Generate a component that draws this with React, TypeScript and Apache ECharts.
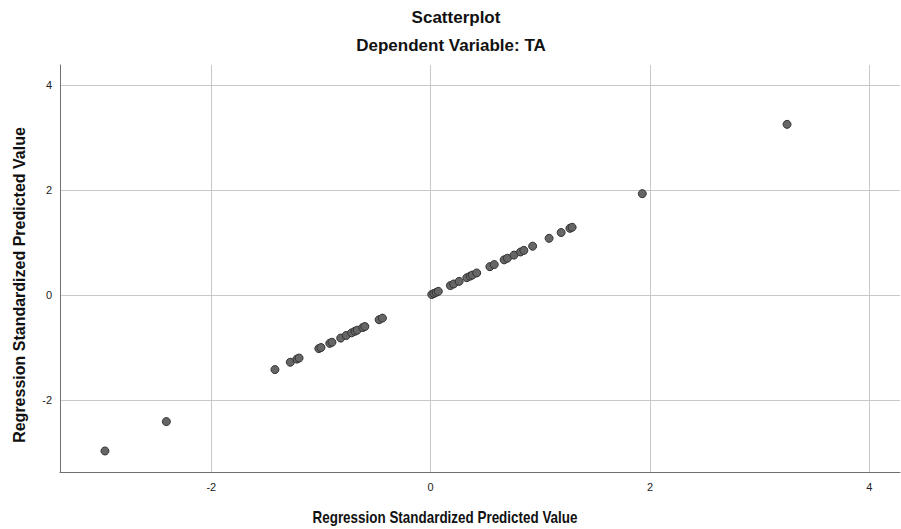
import React, { useEffect, useRef } from "react";
import * as echarts from "echarts";

const predictedValues: number[] = [
  -2.97, -2.41, -1.42, -1.28, -1.22, -1.2, -1.02, -1.0, -0.92, -0.9, -0.82,
  -0.77, -0.72, -0.69, -0.67, -0.62, -0.6, -0.47, -0.44, 0.01, 0.03, 0.05,
  0.07, 0.18, 0.21, 0.26, 0.33, 0.36, 0.38, 0.42, 0.54, 0.58, 0.67, 0.7, 0.76,
  0.82, 0.85, 0.93, 1.08, 1.19, 1.27, 1.29, 1.93, 3.25,
];
const tickValues: number[] = [-2, 0, 2, 4];

const titleText = "Scatterplot";
const subtitleText = "Dependent Variable: TA";
const xAxisTitle = "Regression Standardized Predicted Value";
const yAxisTitle = "Regression Standardized Predicted Value";

const FONT = "Arial, 'Liberation Sans', Helvetica, sans-serif";

export default function App() {
  const ref = useRef<HTMLDivElement>(null);
  useEffect(() => {
    document.body.style.margin = "0";
    if (!ref.current) return;
    const chart = echarts.init(ref.current, null, { renderer: "svg" });
    const fmt = (v: number) =>
      tickValues.some((t) => Math.abs(t - v) < 1e-6) ? String(Math.round(v)) : "";
    chart.setOption({
      animation: false,
      backgroundColor: "#ffffff",
      grid: { left: 60, top: 65, right: 1, bottom: 57, containLabel: false },
      xAxis: {
        type: "value",
        min: -3.38,
        max: 4.28,
        axisLine: { show: true, onZero: false, lineStyle: { color: "#707070", width: 1 } },
        axisTick: { show: false },
        axisLabel: {
          formatter: fmt,
          color: "#222",
          fontSize: 11,
          fontFamily: FONT,
          margin: 9,
          showMinLabel: false,
          showMaxLabel: false,
        },
        splitLine: {
          show: true,
          showMinLine: false,
          showMaxLine: false,
          lineStyle: { color: "#c8c8c8", width: 1 },
        },
      },
      yAxis: {
        type: "value",
        min: -3.37,
        max: 4.38,
        axisLine: { show: true, onZero: false, lineStyle: { color: "#707070", width: 1 } },
        axisTick: { show: false },
        axisLabel: {
          formatter: fmt,
          color: "#222",
          fontSize: 11,
          fontFamily: FONT,
          margin: 8,
          showMinLabel: false,
          showMaxLabel: false,
        },
        splitLine: {
          show: true,
          showMinLine: false,
          showMaxLine: false,
          lineStyle: { color: "#c8c8c8", width: 1 },
        },
      },
      graphic: [
        {
          type: "text",
          x: 456,
          y: 17,
          style: {
            text: titleText,
            font: `bold 17px ${FONT}`,
            fill: "#111",
            textAlign: "center",
            textVerticalAlign: "middle",
          },
        },
        {
          type: "text",
          x: 451,
          y: 45,
          style: {
            text: subtitleText,
            font: `bold 17px ${FONT}`,
            fill: "#111",
            textAlign: "center",
            textVerticalAlign: "middle",
          },
        },
        {
          type: "text",
          x: 445,
          y: 518,
          scaleX: 0.84,
          style: {
            text: xAxisTitle,
            font: `bold 16px ${FONT}`,
            fill: "#111",
            textAlign: "center",
            textVerticalAlign: "middle",
          },
        },
        {
          type: "text",
          x: 19,
          y: 285,
          rotation: Math.PI / 2,
          style: {
            text: yAxisTitle,
            font: `bold 16px ${FONT}`,
            fill: "#111",
            textAlign: "center",
            textVerticalAlign: "middle",
          },
        },
      ],
      series: [
        {
          type: "scatter",
          data: predictedValues.map((v) => [v, v]),
          symbol: "circle",
          symbolSize: 8,
          itemStyle: { color: "#666666", borderColor: "#333333", borderWidth: 1, opacity: 1 },
        },
      ],
    });
    return () => chart.dispose();
  }, []);
  return <div ref={ref} style={{ width: 901, height: 529 }} />;
}
